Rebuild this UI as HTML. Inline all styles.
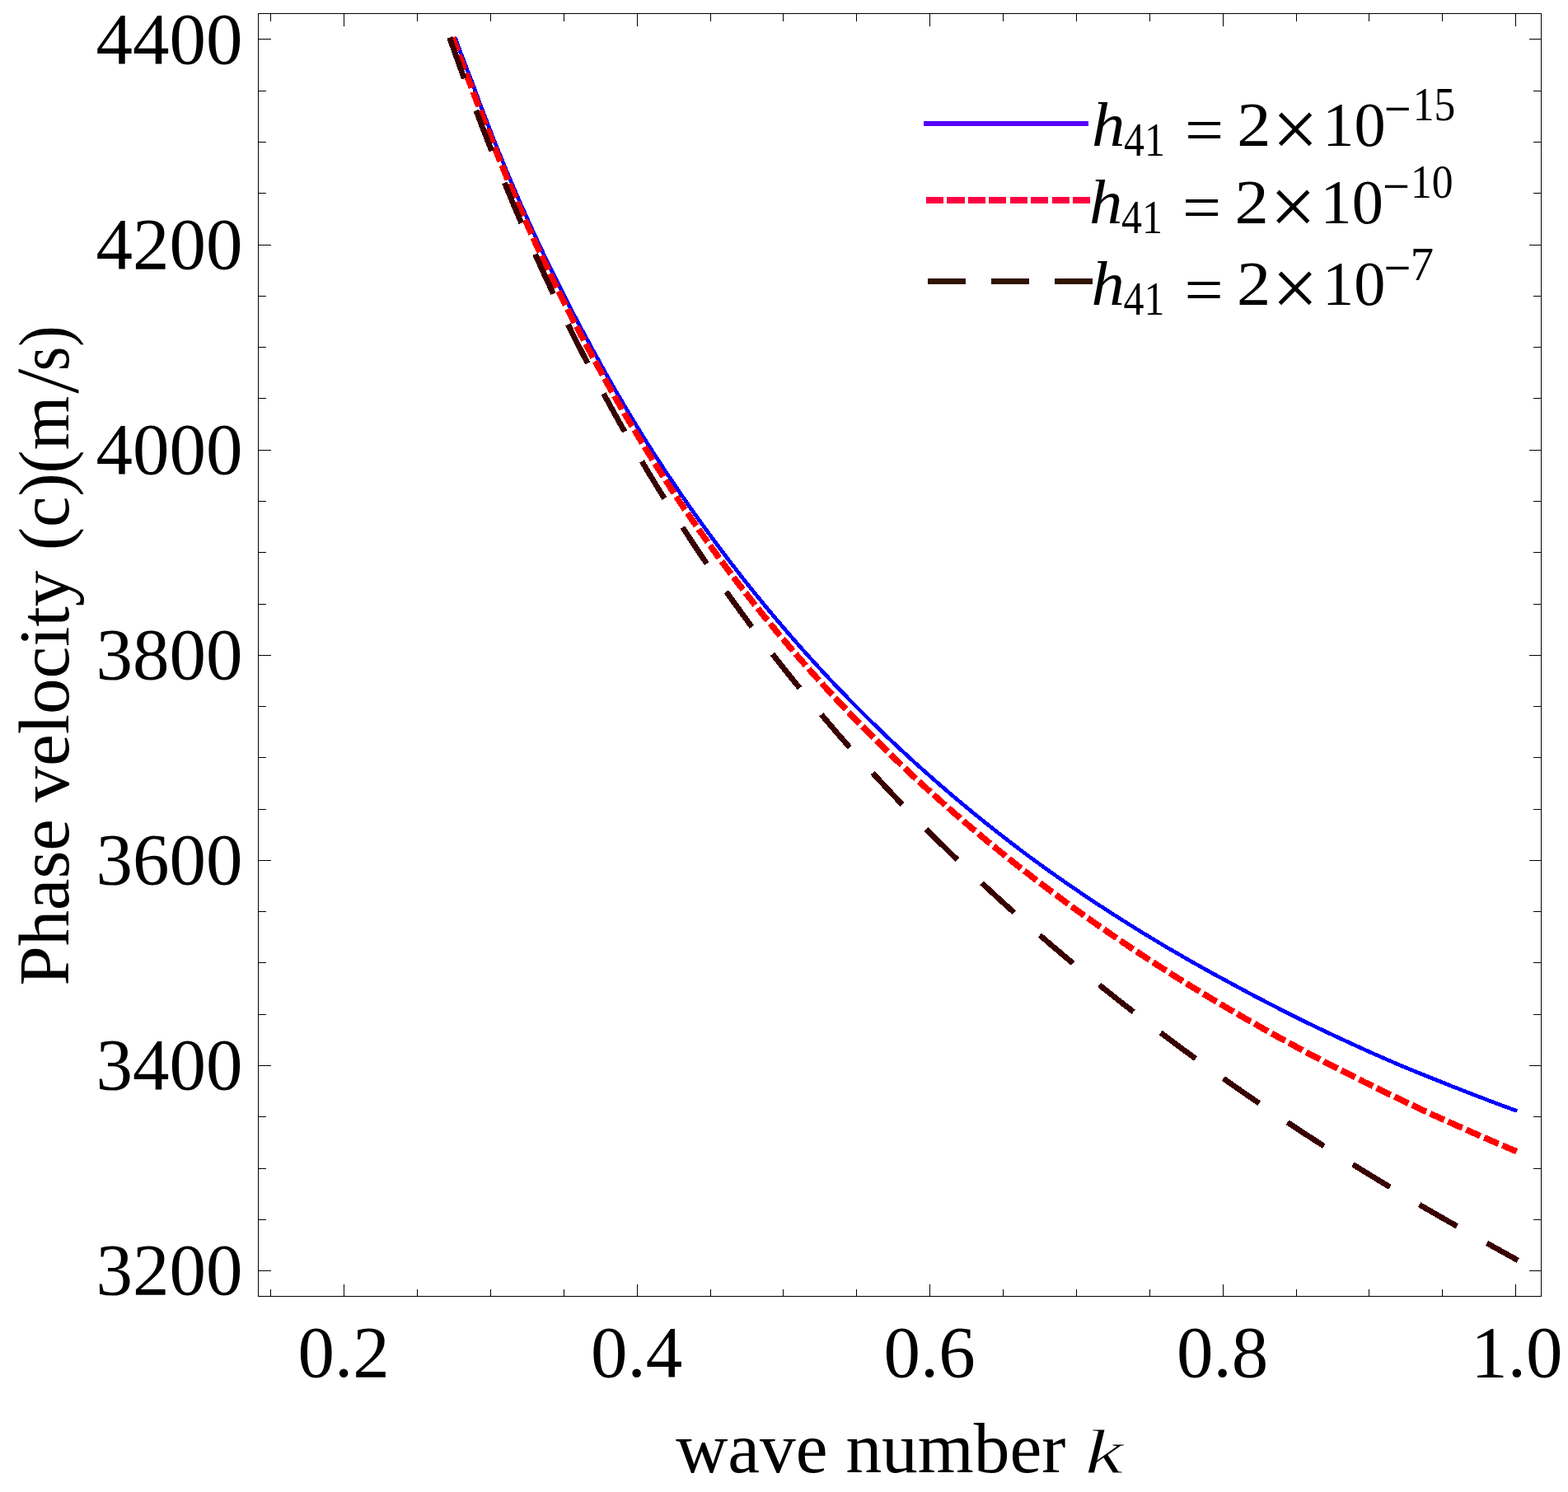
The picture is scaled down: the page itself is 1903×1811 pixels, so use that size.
<!DOCTYPE html>
<html><head><meta charset="utf-8"><title>Phase velocity vs wave number</title>
<style>html,body{margin:0;padding:0;background:#fff;overflow:hidden}svg{display:block}</style>
</head><body>
<svg width="1903" height="1811" viewBox="0 0 1903 1811">
<rect width="1903" height="1811" fill="#fff"/>
<g fill="none" stroke="#000" stroke-width="1" shape-rendering="crispEdges">
<rect x="313.5" y="16.5" width="1557.0" height="1557.0"/>
<path d="M328.5 16.5v9M328.5 1573.5v-9M417.5 16.5v15M417.5 1573.5v-15M506.5 16.5v9M506.5 1573.5v-9M595.5 16.5v9M595.5 1573.5v-9M684.5 16.5v9M684.5 1573.5v-9M773.5 16.5v15M773.5 1573.5v-15M862.5 16.5v9M862.5 1573.5v-9M950.5 16.5v9M950.5 1573.5v-9M1039.5 16.5v9M1039.5 1573.5v-9M1128.5 16.5v15M1128.5 1573.5v-15M1217.5 16.5v9M1217.5 1573.5v-9M1306.5 16.5v9M1306.5 1573.5v-9M1395.5 16.5v9M1395.5 1573.5v-9M1484.5 16.5v15M1484.5 1573.5v-15M1573.5 16.5v9M1573.5 1573.5v-9M1661.5 16.5v9M1661.5 1573.5v-9M1750.5 16.5v9M1750.5 1573.5v-9M1839.5 16.5v15M1839.5 1573.5v-15M313.5 1542.5h15M1870.5 1542.5h-15M313.5 1480.5h9M1870.5 1480.5h-10M313.5 1418.5h9M1870.5 1418.5h-10M313.5 1355.5h9M1870.5 1355.5h-10M313.5 1293.5h15M1870.5 1293.5h-15M313.5 1231.5h9M1870.5 1231.5h-10M313.5 1168.5h9M1870.5 1168.5h-10M313.5 1106.5h9M1870.5 1106.5h-10M313.5 1044.5h15M1870.5 1044.5h-15M313.5 982.5h9M1870.5 982.5h-10M313.5 919.5h9M1870.5 919.5h-10M313.5 857.5h9M1870.5 857.5h-10M313.5 795.5h15M1870.5 795.5h-15M313.5 733.5h9M1870.5 733.5h-10M313.5 670.5h9M1870.5 670.5h-10M313.5 608.5h9M1870.5 608.5h-10M313.5 546.5h15M1870.5 546.5h-15M313.5 483.5h9M1870.5 483.5h-10M313.5 421.5h9M1870.5 421.5h-10M313.5 359.5h9M1870.5 359.5h-10M313.5 297.5h15M1870.5 297.5h-15M313.5 234.5h9M1870.5 234.5h-10M313.5 172.5h9M1870.5 172.5h-10M313.5 110.5h9M1870.5 110.5h-10M313.5 47.5h15M1870.5 47.5h-15"/>
</g>
<g fill="none" shape-rendering="crispEdges">
<path d="M552.4 45.5L555.0 53.0L557.6 59.9L560.2 66.8L562.8 73.6L565.4 80.4L567.9 87.1L570.5 93.7L573.1 100.2L575.7 107.4L578.3 114.4L580.8 121.4L583.4 128.3L586.0 135.1L588.6 141.9L591.2 148.6L593.8 155.3L596.3 161.9L598.9 168.4L601.5 174.9L604.1 181.4L606.7 187.8L609.3 194.1L611.8 200.4L614.4 206.6L617.0 212.7L619.6 218.9L622.2 224.9L624.8 231.0L627.3 236.9L629.9 242.9L632.5 248.8L635.1 254.6L637.7 260.4L640.3 266.1L642.8 271.8L645.4 277.5L648.0 283.1L650.6 288.7L653.2 294.3L655.7 299.8L658.3 305.3L660.9 310.7L663.5 316.1L666.1 321.5L668.7 326.8L671.2 332.1L673.8 337.3L676.4 342.5L679.0 347.7L681.6 352.9L684.2 358.0L686.7 363.0L689.3 368.1L691.9 373.1L694.5 378.1L697.1 383.0L699.7 387.9L702.2 392.8L704.8 397.6L707.4 402.4L710.0 407.2L712.6 412.0L715.1 416.7L717.7 421.5L720.3 426.3L722.9 431.0L725.5 435.7L728.1 440.4L730.6 445.1L733.2 449.7L735.8 454.3L738.4 458.9L741.0 463.4L743.6 467.9L746.1 472.4L748.7 476.9L751.3 481.3L753.9 485.7L756.5 490.1L759.1 494.5L761.6 498.8L764.2 503.1L766.8 507.4L769.4 511.7L772.0 516.0L774.6 520.2L777.1 524.4L779.7 528.6L782.3 532.7L784.9 536.8L787.5 540.9L790.0 544.9L792.6 549.0L795.2 553.0L797.8 556.9L800.4 560.9L803.0 564.9L805.5 568.8L808.1 572.7L810.7 576.6L813.3 580.4L815.9 584.3L818.5 588.1L821.0 591.9L823.6 595.7L826.2 599.5L828.8 603.2L831.4 607.0L834.0 610.7L836.5 614.4L839.1 618.1L841.7 621.7L844.3 625.4L846.9 629.0L849.4 632.6L852.0 636.2L854.6 639.7L857.2 643.3L859.8 646.8L862.4 650.4L864.9 653.9L867.5 657.4L870.1 660.8L872.7 664.3L875.3 667.7L877.9 671.2L880.4 674.6L883.0 678.0L885.6 681.3L888.2 684.7L890.8 688.0L893.4 691.4L895.9 694.7L898.5 698.0L901.1 701.3L903.7 704.6L906.3 707.8L908.9 711.1L911.4 714.3L914.0 717.5L916.6 720.7L919.2 723.9L921.8 727.1L924.3 730.2L926.9 733.4L929.5 736.5L932.1 739.6L934.7 742.7L937.3 745.8L939.8 748.9L942.4 751.9L945.0 755.0L947.6 758.0L950.2 761.1L952.8 764.1L955.3 767.1L957.9 770.0L960.5 773.0L963.1 776.0L965.7 778.9L968.3 781.9L970.8 784.8L973.4 787.7L976.0 790.6L978.6 793.5L981.2 796.4L983.7 799.2L986.3 802.1L988.9 804.9L991.5 807.7L994.1 810.6L996.7 813.4L999.2 816.2L1001.8 818.9L1004.4 821.7L1007.0 824.4L1009.6 827.2L1012.2 829.9L1014.7 832.6L1017.3 835.3L1019.9 838.0L1022.5 840.7L1025.1 843.3L1027.7 846.0L1030.2 848.6L1032.8 851.3L1035.4 853.9L1038.0 856.5L1040.6 859.1L1043.2 861.7L1045.7 864.3L1048.3 866.8L1050.9 869.4L1053.5 872.0L1056.1 874.5L1058.6 877.0L1061.2 879.5L1063.8 882.1L1066.4 884.6L1069.0 887.1L1071.6 889.5L1074.1 892.0L1076.7 894.5L1079.3 896.9L1081.9 899.4L1084.5 901.8L1087.1 904.2L1089.6 906.7L1092.2 909.1L1094.8 911.5L1097.4 913.8L1100.0 916.2L1102.6 918.6L1105.1 921.0L1107.7 923.3L1110.3 925.7L1112.9 928.0L1115.5 930.3L1118.0 932.6L1120.6 934.9L1123.2 937.2L1125.8 939.5L1128.4 941.8L1131.0 944.1L1133.5 946.4L1136.1 948.6L1138.7 950.9L1141.3 953.1L1143.9 955.3L1146.5 957.6L1149.0 959.8L1151.6 962.0L1154.2 964.2L1156.8 966.4L1159.4 968.5L1162.0 970.7L1164.5 972.9L1167.1 975.0L1169.7 977.2L1172.3 979.3L1174.9 981.5L1177.4 983.6L1180.0 985.7L1182.6 987.8L1185.2 989.9L1187.8 992.0L1190.4 994.1L1192.9 996.2L1195.5 998.3L1198.1 1000.3L1200.7 1002.4L1203.3 1004.5L1205.9 1006.5L1208.4 1008.5L1211.0 1010.6L1213.6 1012.6L1216.2 1014.6L1218.8 1016.6L1221.4 1018.6L1223.9 1020.6L1226.5 1022.6L1229.1 1024.6L1231.7 1026.5L1234.3 1028.5L1236.9 1030.5L1239.4 1032.4L1242.0 1034.4L1244.6 1036.3L1247.2 1038.2L1249.8 1040.2L1252.3 1042.1L1254.9 1043.9L1257.5 1045.8L1260.1 1047.7L1262.7 1049.6L1265.3 1051.4L1267.8 1053.3L1270.4 1055.1L1273.0 1057.0L1275.6 1058.8L1278.2 1060.7L1280.8 1062.5L1283.3 1064.3L1285.9 1066.1L1288.5 1067.9L1291.1 1069.7L1293.7 1071.5L1296.3 1073.3L1298.8 1075.1L1301.4 1076.8L1304.0 1078.6L1306.6 1080.4L1309.2 1082.1L1311.7 1083.9L1314.3 1085.6L1316.9 1087.4L1319.5 1089.1L1322.1 1090.8L1324.7 1092.5L1327.2 1094.2L1329.8 1096.0L1332.4 1097.7L1335.0 1099.4L1337.6 1101.0L1340.2 1102.7L1342.7 1104.4L1345.3 1106.1L1347.9 1107.7L1350.5 1109.4L1353.1 1111.1L1355.7 1112.7L1358.2 1114.4L1360.8 1116.0L1363.4 1117.6L1366.0 1119.3L1368.6 1120.9L1371.2 1122.5L1373.7 1124.1L1376.3 1125.7L1378.9 1127.3L1381.5 1128.9L1384.1 1130.5L1386.6 1132.1L1389.2 1133.7L1391.8 1135.2L1394.4 1136.8L1397.0 1138.4L1399.6 1139.9L1402.1 1141.5L1404.7 1143.0L1407.3 1144.6L1409.9 1146.1L1412.5 1147.7L1415.1 1149.2L1417.6 1150.7L1420.2 1152.2L1422.8 1153.7L1425.4 1155.2L1428.0 1156.7L1430.6 1158.2L1433.1 1159.7L1435.7 1161.2L1438.3 1162.7L1440.9 1164.2L1443.5 1165.7L1446.0 1167.1L1448.6 1168.6L1451.2 1170.1L1453.8 1171.5L1456.4 1173.0L1459.0 1174.4L1461.5 1175.8L1464.1 1177.3L1466.7 1178.7L1469.3 1180.1L1471.9 1181.6L1474.5 1183.0L1477.0 1184.4L1479.6 1185.8L1482.2 1187.2L1484.8 1188.6L1487.4 1190.0L1490.0 1191.4L1492.5 1192.8L1495.1 1194.2L1497.7 1195.6L1500.3 1197.0L1502.9 1198.4L1505.5 1199.8L1508.0 1201.2L1510.6 1202.6L1513.2 1204.0L1515.8 1205.3L1518.4 1206.7L1520.9 1208.1L1523.5 1209.4L1526.1 1210.8L1528.7 1212.1L1531.3 1213.5L1533.9 1214.8L1536.4 1216.2L1539.0 1217.5L1541.6 1218.8L1544.2 1220.2L1546.8 1221.5L1549.4 1222.8L1551.9 1224.1L1554.5 1225.5L1557.1 1226.8L1559.7 1228.1L1562.3 1229.4L1564.9 1230.7L1567.4 1232.0L1570.0 1233.2L1572.6 1234.5L1575.2 1235.8L1577.8 1237.1L1580.3 1238.4L1582.9 1239.6L1585.5 1240.9L1588.1 1242.2L1590.7 1243.4L1593.3 1244.7L1595.8 1245.9L1598.4 1247.2L1601.0 1248.4L1603.6 1249.6L1606.2 1250.9L1608.8 1252.1L1611.3 1253.3L1613.9 1254.6L1616.5 1255.8L1619.1 1257.0L1621.7 1258.2L1624.3 1259.4L1626.8 1260.6L1629.4 1261.8L1632.0 1263.0L1634.6 1264.2L1637.2 1265.4L1639.8 1266.6L1642.3 1267.8L1644.9 1269.0L1647.5 1270.2L1650.1 1271.3L1652.7 1272.5L1655.2 1273.7L1657.8 1274.8L1660.4 1276.0L1663.0 1277.2L1665.6 1278.3L1668.2 1279.5L1670.7 1280.6L1673.3 1281.7L1675.9 1282.9L1678.5 1284.0L1681.1 1285.2L1683.7 1286.3L1686.2 1287.4L1688.8 1288.5L1691.4 1289.7L1694.0 1290.8L1696.6 1291.9L1699.2 1293.0L1701.7 1294.1L1704.3 1295.1L1706.9 1296.2L1709.5 1297.3L1712.1 1298.3L1714.6 1299.4L1717.2 1300.4L1719.8 1301.5L1722.4 1302.5L1725.0 1303.6L1727.6 1304.6L1730.1 1305.7L1732.7 1306.7L1735.3 1307.7L1737.9 1308.7L1740.5 1309.8L1743.1 1310.8L1745.6 1311.9L1748.2 1312.9L1750.8 1313.9L1753.4 1315.0L1756.0 1316.0L1758.6 1317.0L1761.1 1318.1L1763.7 1319.1L1766.3 1320.1L1768.9 1321.1L1771.5 1322.1L1774.1 1323.2L1776.6 1324.2L1779.2 1325.2L1781.8 1326.2L1784.4 1327.2L1787.0 1328.2L1789.5 1329.2L1792.1 1330.2L1794.7 1331.2L1797.3 1332.1L1799.9 1333.1L1802.5 1334.1L1805.0 1335.1L1807.6 1336.1L1810.2 1337.0L1812.8 1338.0L1815.4 1339.0L1818.0 1339.9L1820.5 1340.9L1823.1 1341.9L1825.7 1342.8L1828.3 1343.8L1830.9 1344.7L1833.5 1345.7L1836.0 1346.6L1838.6 1347.6L1841.2 1348.5" stroke="#0000ff" stroke-width="4.7"/>
<path d="M549.5 45.5L552.0 53.0L554.6 60.4L557.2 67.2L559.8 74.0L562.4 80.8L565.0 87.5L567.6 94.1L570.2 100.7L572.7 107.3L575.3 114.3L577.9 121.3L580.5 128.2L583.1 135.0L585.7 141.8L588.3 148.5L590.9 155.2L593.5 161.8L596.0 168.4L598.6 174.9L601.2 181.4L603.8 187.8L606.4 194.2L609.0 200.5L611.6 206.8L614.2 213.1L616.8 219.3L619.3 225.4L621.9 231.5L624.5 237.6L627.1 243.6L629.7 249.6L632.3 255.6L634.9 261.5L637.5 267.3L640.1 273.2L642.6 278.9L645.2 284.6L647.8 290.3L650.4 295.9L653.0 301.5L655.6 307.0L658.2 312.5L660.8 318.0L663.4 323.4L665.9 328.8L668.5 334.2L671.1 339.5L673.7 344.8L676.3 350.1L678.9 355.3L681.5 360.5L684.1 365.7L686.6 370.8L689.2 375.9L691.8 380.9L694.4 386.0L697.0 391.0L699.6 395.9L702.2 400.9L704.8 405.8L707.4 410.6L709.9 415.5L712.5 420.3L715.1 425.2L717.7 430.0L720.3 434.9L722.9 439.6L725.5 444.4L728.1 449.1L730.7 453.8L733.2 458.5L735.8 463.2L738.4 467.8L741.0 472.4L743.6 477.0L746.2 481.5L748.8 486.0L751.4 490.5L754.0 495.0L756.5 499.5L759.1 503.9L761.7 508.3L764.3 512.6L766.9 517.0L769.5 521.3L772.1 525.6L774.7 529.9L777.3 534.2L779.8 538.4L782.4 542.6L785.0 546.8L787.6 551.0L790.2 555.2L792.8 559.3L795.4 563.4L798.0 567.5L800.6 571.6L803.1 575.6L805.7 579.7L808.3 583.7L810.9 587.7L813.5 591.6L816.1 595.6L818.7 599.5L821.3 603.4L823.8 607.3L826.4 611.2L829.0 615.0L831.6 618.8L834.2 622.7L836.8 626.4L839.4 630.2L842.0 634.0L844.6 637.7L847.1 641.4L849.7 645.1L852.3 648.8L854.9 652.5L857.5 656.1L860.1 659.7L862.7 663.4L865.3 667.0L867.9 670.5L870.4 674.1L873.0 677.6L875.6 681.2L878.2 684.7L880.8 688.2L883.4 691.6L886.0 695.1L888.6 698.5L891.2 701.9L893.7 705.3L896.3 708.7L898.9 712.0L901.5 715.4L904.1 718.7L906.7 722.0L909.3 725.3L911.9 728.6L914.5 731.9L917.0 735.2L919.6 738.4L922.2 741.6L924.8 744.9L927.4 748.1L930.0 751.2L932.6 754.4L935.2 757.6L937.8 760.7L940.3 763.8L942.9 767.0L945.5 770.1L948.1 773.2L950.7 776.2L953.3 779.3L955.9 782.3L958.5 785.4L961.0 788.4L963.6 791.4L966.2 794.4L968.8 797.4L971.4 800.4L974.0 803.3L976.6 806.3L979.2 809.2L981.8 812.1L984.3 815.1L986.9 818.0L989.5 820.8L992.1 823.7L994.7 826.6L997.3 829.4L999.9 832.3L1002.5 835.1L1005.1 837.9L1007.6 840.7L1010.2 843.5L1012.8 846.3L1015.4 849.1L1018.0 851.9L1020.6 854.6L1023.2 857.4L1025.8 860.1L1028.4 862.8L1030.9 865.6L1033.5 868.3L1036.1 870.9L1038.7 873.6L1041.3 876.3L1043.9 879.0L1046.5 881.6L1049.1 884.2L1051.7 886.9L1054.2 889.5L1056.8 892.1L1059.4 894.7L1062.0 897.3L1064.6 899.9L1067.2 902.4L1069.8 905.0L1072.4 907.5L1075.0 910.1L1077.5 912.6L1080.1 915.1L1082.7 917.6L1085.3 920.2L1087.9 922.6L1090.5 925.1L1093.1 927.6L1095.7 930.1L1098.2 932.5L1100.8 935.0L1103.4 937.4L1106.0 939.8L1108.6 942.3L1111.2 944.7L1113.8 947.1L1116.4 949.5L1119.0 951.9L1121.5 954.2L1124.1 956.6L1126.7 959.0L1129.3 961.3L1131.9 963.6L1134.5 966.0L1137.1 968.3L1139.7 970.6L1142.3 972.9L1144.8 975.2L1147.4 977.5L1150.0 979.8L1152.6 982.1L1155.2 984.4L1157.8 986.6L1160.4 988.9L1163.0 991.1L1165.6 993.4L1168.1 995.6L1170.7 997.8L1173.3 1000.0L1175.9 1002.2L1178.5 1004.4L1181.1 1006.6L1183.7 1008.8L1186.3 1011.0L1188.9 1013.2L1191.4 1015.3L1194.0 1017.5L1196.6 1019.6L1199.2 1021.8L1201.8 1023.9L1204.4 1026.0L1207.0 1028.1L1209.6 1030.3L1212.2 1032.4L1214.7 1034.5L1217.3 1036.5L1219.9 1038.6L1222.5 1040.7L1225.1 1042.8L1227.7 1044.8L1230.3 1046.9L1232.9 1048.9L1235.4 1051.0L1238.0 1053.0L1240.6 1055.1L1243.2 1057.1L1245.8 1059.1L1248.4 1061.1L1251.0 1063.1L1253.6 1065.1L1256.2 1067.1L1258.7 1069.1L1261.3 1071.0L1263.9 1073.0L1266.5 1075.0L1269.1 1076.9L1271.7 1078.9L1274.3 1080.8L1276.9 1082.8L1279.5 1084.7L1282.0 1086.6L1284.6 1088.5L1287.2 1090.5L1289.8 1092.4L1292.4 1094.3L1295.0 1096.2L1297.6 1098.1L1300.2 1099.9L1302.8 1101.8L1305.3 1103.7L1307.9 1105.6L1310.5 1107.4L1313.1 1109.3L1315.7 1111.1L1318.3 1113.0L1320.9 1114.8L1323.5 1116.6L1326.1 1118.5L1328.6 1120.3L1331.2 1122.1L1333.8 1123.9L1336.4 1125.7L1339.0 1127.5L1341.6 1129.3L1344.2 1131.1L1346.8 1132.9L1349.4 1134.7L1351.9 1136.4L1354.5 1138.2L1357.1 1140.0L1359.7 1141.7L1362.3 1143.5L1364.9 1145.2L1367.5 1146.9L1370.1 1148.7L1372.6 1150.4L1375.2 1152.1L1377.8 1153.9L1380.4 1155.6L1383.0 1157.3L1385.6 1159.0L1388.2 1160.7L1390.8 1162.4L1393.4 1164.1L1395.9 1165.8L1398.5 1167.4L1401.1 1169.1L1403.7 1170.8L1406.3 1172.5L1408.9 1174.1L1411.5 1175.8L1414.1 1177.4L1416.7 1179.1L1419.2 1180.7L1421.8 1182.4L1424.4 1184.0L1427.0 1185.6L1429.6 1187.2L1432.2 1188.9L1434.8 1190.5L1437.4 1192.1L1440.0 1193.7L1442.5 1195.3L1445.1 1196.9L1447.7 1198.5L1450.3 1200.1L1452.9 1201.6L1455.5 1203.2L1458.1 1204.8L1460.7 1206.4L1463.3 1207.9L1465.8 1209.5L1468.4 1211.0L1471.0 1212.6L1473.6 1214.1L1476.2 1215.7L1478.8 1217.2L1481.4 1218.8L1484.0 1220.3L1486.6 1221.8L1489.1 1223.3L1491.7 1224.9L1494.3 1226.4L1496.9 1227.9L1499.5 1229.4L1502.1 1230.9L1504.7 1232.4L1507.3 1233.9L1509.8 1235.4L1512.4 1236.9L1515.0 1238.3L1517.6 1239.8L1520.2 1241.3L1522.8 1242.8L1525.4 1244.2L1528.0 1245.7L1530.6 1247.2L1533.1 1248.6L1535.7 1250.1L1538.3 1251.5L1540.9 1253.0L1543.5 1254.4L1546.1 1255.8L1548.7 1257.3L1551.3 1258.7L1553.9 1260.1L1556.4 1261.5L1559.0 1262.9L1561.6 1264.4L1564.2 1265.8L1566.8 1267.2L1569.4 1268.6L1572.0 1270.0L1574.6 1271.4L1577.2 1272.8L1579.7 1274.1L1582.3 1275.5L1584.9 1276.9L1587.5 1278.3L1590.1 1279.7L1592.7 1281.0L1595.3 1282.4L1597.9 1283.8L1600.5 1285.1L1603.0 1286.5L1605.6 1287.8L1608.2 1289.2L1610.8 1290.5L1613.4 1291.9L1616.0 1293.2L1618.6 1294.5L1621.2 1295.9L1623.8 1297.2L1626.3 1298.5L1628.9 1299.8L1631.5 1301.2L1634.1 1302.5L1636.7 1303.8L1639.3 1305.1L1641.9 1306.4L1644.5 1307.7L1647.0 1309.0L1649.6 1310.3L1652.2 1311.6L1654.8 1312.9L1657.4 1314.2L1660.0 1315.4L1662.6 1316.7L1665.2 1318.0L1667.8 1319.3L1670.3 1320.5L1672.9 1321.8L1675.5 1323.1L1678.1 1324.3L1680.7 1325.6L1683.3 1326.8L1685.9 1328.1L1688.5 1329.3L1691.1 1330.6L1693.6 1331.8L1696.2 1333.1L1698.8 1334.3L1701.4 1335.5L1704.0 1336.8L1706.6 1338.0L1709.2 1339.2L1711.8 1340.4L1714.4 1341.7L1716.9 1342.9L1719.5 1344.1L1722.1 1345.3L1724.7 1346.5L1727.3 1347.7L1729.9 1348.9L1732.5 1350.1L1735.1 1351.3L1737.7 1352.5L1740.2 1353.7L1742.8 1354.8L1745.4 1356.0L1748.0 1357.2L1750.6 1358.4L1753.2 1359.5L1755.8 1360.7L1758.4 1361.9L1761.0 1363.0L1763.5 1364.2L1766.1 1365.4L1768.7 1366.5L1771.3 1367.7L1773.9 1368.8L1776.5 1370.0L1779.1 1371.1L1781.7 1372.3L1784.2 1373.4L1786.8 1374.5L1789.4 1375.7L1792.0 1376.8L1794.6 1377.9L1797.2 1379.1L1799.8 1380.2L1802.4 1381.3L1805.0 1382.4L1807.5 1383.5L1810.1 1384.7L1812.7 1385.8L1815.3 1386.9L1817.9 1388.0L1820.5 1389.1L1823.1 1390.2L1825.7 1391.3L1828.3 1392.4L1830.8 1393.5L1833.4 1394.6L1836.0 1395.7L1838.6 1396.7L1841.2 1397.8" stroke="#ff0000" stroke-width="7.6" stroke-dasharray="18.9 5.06" stroke-dashoffset="1.4"/>
<path d="M545.6 45.5L548.2 52.9L550.8 60.3L553.4 67.6L556.0 74.9L558.6 82.2L561.2 89.4L563.8 96.5L566.4 103.6L569.0 110.7L571.6 117.7L574.2 124.6L576.8 131.6L579.4 138.4L582.0 145.3L584.6 152.1L587.2 158.8L589.8 165.5L592.4 172.2L595.0 178.8L597.6 185.4L600.2 191.9L602.8 198.4L605.4 204.8L608.0 211.2L610.6 217.6L613.2 223.9L615.8 230.2L618.4 236.5L620.9 242.7L623.5 248.9L626.1 255.0L628.7 261.1L631.3 267.2L633.9 273.2L636.5 279.2L639.1 285.2L641.7 291.1L644.3 297.0L646.9 302.8L649.5 308.7L652.1 314.4L654.7 320.2L657.3 325.9L659.9 331.6L662.5 337.2L665.1 342.8L667.7 348.4L670.3 354.0L672.9 359.5L675.5 365.0L678.1 370.4L680.7 375.8L683.3 381.2L685.9 386.6L688.5 391.9L691.1 397.2L693.7 402.5L696.3 407.7L698.9 413.0L701.5 418.1L704.1 423.3L706.7 428.4L709.3 433.5L711.9 438.5L714.5 443.5L717.1 448.5L719.7 453.5L722.3 458.4L724.9 463.4L727.5 468.2L730.1 473.1L732.7 477.9L735.3 482.8L737.9 487.5L740.5 492.3L743.1 497.0L745.7 501.7L748.3 506.4L750.9 511.1L753.5 515.7L756.1 520.3L758.7 524.9L761.3 529.5L763.9 534.0L766.5 538.6L769.1 543.1L771.7 547.5L774.3 552.0L776.9 556.4L779.5 560.8L782.1 565.2L784.7 569.6L787.3 573.9L789.9 578.2L792.5 582.5L795.1 586.8L797.7 591.1L800.3 595.3L802.9 599.5L805.5 603.7L808.1 607.9L810.6 612.0L813.2 616.2L815.8 620.3L818.4 624.4L821.0 628.5L823.6 632.5L826.2 636.6L828.8 640.6L831.4 644.6L834.0 648.6L836.6 652.5L839.2 656.5L841.8 660.4L844.4 664.3L847.0 668.2L849.6 672.1L852.2 676.0L854.8 679.8L857.4 683.6L860.0 687.4L862.6 691.2L865.2 695.0L867.8 698.7L870.4 702.5L873.0 706.2L875.6 709.9L878.2 713.6L880.8 717.3L883.4 720.9L886.0 724.6L888.6 728.2L891.2 731.8L893.8 735.4L896.4 739.0L899.0 742.6L901.6 746.1L904.2 749.7L906.8 753.2L909.4 756.7L912.0 760.2L914.6 763.7L917.2 767.2L919.8 770.6L922.4 774.0L925.0 777.5L927.6 780.9L930.2 784.3L932.8 787.7L935.4 791.0L938.0 794.4L940.6 797.7L943.2 801.1L945.8 804.4L948.4 807.7L951.0 811.0L953.6 814.2L956.2 817.5L958.8 820.8L961.4 824.0L964.0 827.2L966.6 830.4L969.2 833.6L971.8 836.9L974.4 840.1L977.0 843.2L979.6 846.4L982.2 849.6L984.8 852.7L987.4 855.9L990.0 859.0L992.6 862.1L995.2 865.3L997.7 868.3L1000.3 871.4L1002.9 874.5L1005.5 877.5L1008.1 880.6L1010.7 883.6L1013.3 886.6L1015.9 889.7L1018.5 892.7L1021.1 895.7L1023.7 898.6L1026.3 901.6L1028.9 904.6L1031.5 907.5L1034.1 910.4L1036.7 913.4L1039.3 916.3L1041.9 919.2L1044.5 922.1L1047.1 925.0L1049.7 927.9L1052.3 930.7L1054.9 933.6L1057.5 936.4L1060.1 939.3L1062.7 942.1L1065.3 944.9L1067.9 947.8L1070.5 950.6L1073.1 953.3L1075.7 956.1L1078.3 958.9L1080.9 961.7L1083.5 964.4L1086.1 967.2L1088.7 969.9L1091.3 972.7L1093.9 975.4L1096.5 978.1L1099.1 980.8L1101.7 983.5L1104.3 986.2L1106.9 988.9L1109.5 991.5L1112.1 994.2L1114.7 996.8L1117.3 999.5L1119.9 1002.1L1122.5 1004.7L1125.1 1007.4L1127.7 1010.0L1130.3 1012.6L1132.9 1015.2L1135.5 1017.8L1138.1 1020.4L1140.7 1022.9L1143.3 1025.5L1145.9 1028.0L1148.5 1030.6L1151.1 1033.1L1153.7 1035.7L1156.3 1038.2L1158.9 1040.7L1161.5 1043.2L1164.1 1045.7L1166.7 1048.2L1169.3 1050.7L1171.9 1053.2L1174.5 1055.7L1177.1 1058.2L1179.7 1060.6L1182.3 1063.1L1184.8 1065.5L1187.4 1068.0L1190.0 1070.4L1192.6 1072.8L1195.2 1075.2L1197.8 1077.6L1200.4 1080.0L1203.0 1082.4L1205.6 1084.8L1208.2 1087.2L1210.8 1089.6L1213.4 1092.0L1216.0 1094.3L1218.6 1096.7L1221.2 1099.1L1223.8 1101.4L1226.4 1103.7L1229.0 1106.1L1231.6 1108.4L1234.2 1110.7L1236.8 1113.0L1239.4 1115.3L1242.0 1117.6L1244.6 1119.9L1247.2 1122.2L1249.8 1124.5L1252.4 1126.8L1255.0 1129.1L1257.6 1131.3L1260.2 1133.6L1262.8 1135.8L1265.4 1138.1L1268.0 1140.3L1270.6 1142.5L1273.2 1144.8L1275.8 1147.0L1278.4 1149.2L1281.0 1151.4L1283.6 1153.6L1286.2 1155.8L1288.8 1158.0L1291.4 1160.2L1294.0 1162.4L1296.6 1164.6L1299.2 1166.7L1301.8 1168.9L1304.4 1171.1L1307.0 1173.2L1309.6 1175.4L1312.2 1177.5L1314.8 1179.7L1317.4 1181.8L1320.0 1183.9L1322.6 1186.1L1325.2 1188.2L1327.8 1190.3L1330.4 1192.4L1333.0 1194.5L1335.6 1196.6L1338.2 1198.7L1340.8 1200.8L1343.4 1202.8L1346.0 1204.9L1348.6 1207.0L1351.2 1209.1L1353.8 1211.1L1356.4 1213.2L1359.0 1215.2L1361.6 1217.3L1364.2 1219.3L1366.8 1221.4L1369.4 1223.4L1372.0 1225.4L1374.5 1227.4L1377.1 1229.5L1379.7 1231.5L1382.3 1233.5L1384.9 1235.5L1387.5 1237.5L1390.1 1239.5L1392.7 1241.5L1395.3 1243.4L1397.9 1245.4L1400.5 1247.4L1403.1 1249.4L1405.7 1251.3L1408.3 1253.3L1410.9 1255.3L1413.5 1257.2L1416.1 1259.2L1418.7 1261.1L1421.3 1263.0L1423.9 1265.0L1426.5 1266.9L1429.1 1268.8L1431.7 1270.8L1434.3 1272.7L1436.9 1274.6L1439.5 1276.5L1442.1 1278.4L1444.7 1280.3L1447.3 1282.2L1449.9 1284.1L1452.5 1286.0L1455.1 1287.9L1457.7 1289.7L1460.3 1291.6L1462.9 1293.5L1465.5 1295.3L1468.1 1297.2L1470.7 1299.1L1473.3 1300.9L1475.9 1302.8L1478.5 1304.6L1481.1 1306.5L1483.7 1308.3L1486.3 1310.1L1488.9 1312.0L1491.5 1313.8L1494.1 1315.6L1496.7 1317.4L1499.3 1319.2L1501.9 1321.1L1504.5 1322.9L1507.1 1324.7L1509.7 1326.5L1512.3 1328.3L1514.9 1330.1L1517.5 1331.8L1520.1 1333.6L1522.7 1335.4L1525.3 1337.2L1527.9 1339.0L1530.5 1340.7L1533.1 1342.5L1535.7 1344.3L1538.3 1346.0L1540.9 1347.8L1543.5 1349.5L1546.1 1351.3L1548.7 1353.0L1551.3 1354.7L1553.9 1356.5L1556.5 1358.2L1559.1 1359.9L1561.6 1361.7L1564.2 1363.4L1566.8 1365.1L1569.4 1366.8L1572.0 1368.5L1574.6 1370.3L1577.2 1372.0L1579.8 1373.7L1582.4 1375.4L1585.0 1377.1L1587.6 1378.7L1590.2 1380.4L1592.8 1382.1L1595.4 1383.8L1598.0 1385.5L1600.6 1387.1L1603.2 1388.8L1605.8 1390.5L1608.4 1392.1L1611.0 1393.8L1613.6 1395.5L1616.2 1397.1L1618.8 1398.8L1621.4 1400.4L1624.0 1402.1L1626.6 1403.7L1629.2 1405.3L1631.8 1407.0L1634.4 1408.6L1637.0 1410.2L1639.6 1411.9L1642.2 1413.5L1644.8 1415.1L1647.4 1416.7L1650.0 1418.3L1652.6 1420.0L1655.2 1421.6L1657.8 1423.2L1660.4 1424.8L1663.0 1426.4L1665.6 1428.0L1668.2 1429.5L1670.8 1431.1L1673.4 1432.7L1676.0 1434.3L1678.6 1435.9L1681.2 1437.5L1683.8 1439.0L1686.4 1440.6L1689.0 1442.2L1691.6 1443.7L1694.2 1445.3L1696.8 1446.9L1699.4 1448.4L1702.0 1450.0L1704.6 1451.5L1707.2 1453.1L1709.8 1454.6L1712.4 1456.1L1715.0 1457.7L1717.6 1459.2L1720.2 1460.8L1722.8 1462.3L1725.4 1463.8L1728.0 1465.3L1730.6 1466.8L1733.2 1468.3L1735.8 1469.8L1738.4 1471.3L1741.0 1472.8L1743.6 1474.3L1746.2 1475.8L1748.7 1477.3L1751.3 1478.7L1753.9 1480.2L1756.5 1481.7L1759.1 1483.2L1761.7 1484.6L1764.3 1486.1L1766.9 1487.6L1769.5 1489.1L1772.1 1490.6L1774.7 1492.0L1777.3 1493.5L1779.9 1495.0L1782.5 1496.5L1785.1 1498.0L1787.7 1499.4L1790.3 1500.9L1792.9 1502.4L1795.5 1503.8L1798.1 1505.3L1800.7 1506.8L1803.3 1508.2L1805.9 1509.7L1808.5 1511.1L1811.1 1512.6L1813.7 1514.0L1816.3 1515.5L1818.9 1516.9L1821.5 1518.4L1824.1 1519.8L1826.7 1521.2L1829.3 1522.7L1831.9 1524.1L1834.5 1525.5L1837.1 1527.0L1839.7 1528.4L1842.3 1529.8" stroke="#380000" stroke-width="6.8" stroke-dasharray="52.8 41.5"/>
<path d="M1121 150H1321" stroke="#5500ff" stroke-width="6" shape-rendering="crispEdges"/>
<path d="M1124 243H1323" stroke="#ff0040" stroke-width="8" stroke-dasharray="21.1 4.35" shape-rendering="crispEdges"/>
<path d="M1126 341.5H1326" stroke="#301400" stroke-width="7" stroke-dasharray="46 31" shape-rendering="crispEdges"/>
</g>
<g font-family="'Liberation Serif', 'Times New Roman', serif" fill="#000">
<text x="294.6" y="76.53" text-anchor="end" font-size="89.0">4400</text>
<text x="294.6" y="325.65" text-anchor="end" font-size="89.0">4200</text>
<text x="294.6" y="574.77" text-anchor="end" font-size="89.0">4000</text>
<text x="294.6" y="823.89" text-anchor="end" font-size="89.0">3800</text>
<text x="294.6" y="1073.01" text-anchor="end" font-size="89.0">3600</text>
<text x="294.6" y="1322.13" text-anchor="end" font-size="89.0">3400</text>
<text x="294.6" y="1571.25" text-anchor="end" font-size="89.0">3200</text>
<text x="417.00" y="1670.5" text-anchor="middle" font-size="89.0">0.2</text>
<text x="772.50" y="1670.5" text-anchor="middle" font-size="89.0">0.4</text>
<text x="1128.00" y="1670.5" text-anchor="middle" font-size="89.0">0.6</text>
<text x="1483.50" y="1670.5" text-anchor="middle" font-size="89.0">0.8</text>
<text x="1840.80" y="1670.5" text-anchor="middle" font-size="89.0">1.0</text>
<text x="820.20" y="1786.93" font-size="87.40">wave number</text>
<text transform="translate(1317.07 1787.80) scale(1.3750 1)" font-size="75.94" font-style="italic" stroke="#fff" stroke-width="1.0">k</text>
<text transform="translate(83.00 1196.60) rotate(-90) scale(0.9975 1.0000)" font-size="87.00">Phase</text>
<text transform="translate(83.00 973.70) rotate(-90) scale(1.0036 1.0000)" font-size="87.00">velocity</text>
<text transform="translate(83.00 668.00) rotate(-90) scale(0.9696 1.0000)" font-size="87.00">(c)(m</text>
<text transform="translate(95.20 478.60) rotate(-90) scale(1.3083 1.2635)" font-size="87.00" stroke="#fff" stroke-width="0.8">/</text>
<text transform="translate(83.00 450.34) rotate(-90) scale(0.8746 1.0000)" font-size="87.00">s)</text>
<text transform="translate(1324.88 177.08) scale(1.0693 1)" font-size="75.47" font-style="italic">h</text>
<text transform="translate(1363.90 189.00) scale(0.8804 1)" font-size="56.79">41</text>
<text transform="translate(1437.92 184.15) scale(1.0616 1)" font-size="78.80">=</text>
<text transform="translate(1501.29 176.70) scale(1.0740 1)" font-size="76.82">2</text>
<text x="1544.06" y="189.90" font-size="99.26">×</text>
<text x="1605.35" y="176.74" font-size="76.30">10</text>
<text transform="translate(1679.78 154.84) scale(0.8602 1)" font-size="68.00">−</text>
<text transform="translate(1714.76 146.23) scale(0.9055 1)" font-size="56.99">15</text>
<text transform="translate(1322.08 271.28) scale(1.0693 1)" font-size="75.47" font-style="italic">h</text>
<text transform="translate(1361.10 283.20) scale(0.8804 1)" font-size="56.79">41</text>
<text transform="translate(1435.12 278.35) scale(1.0616 1)" font-size="78.80">=</text>
<text transform="translate(1498.49 270.90) scale(1.0740 1)" font-size="76.82">2</text>
<text x="1541.26" y="284.10" font-size="99.26">×</text>
<text x="1602.55" y="270.94" font-size="76.30">10</text>
<text transform="translate(1677.98 249.04) scale(0.8602 1)" font-size="68.00">−</text>
<text transform="translate(1711.96 240.44) scale(0.9192 1)" font-size="56.15">10</text>
<text transform="translate(1324.58 370.48) scale(1.0693 1)" font-size="75.47" font-style="italic">h</text>
<text transform="translate(1363.60 382.40) scale(0.8804 1)" font-size="56.79">41</text>
<text transform="translate(1437.62 377.55) scale(1.0616 1)" font-size="78.80">=</text>
<text transform="translate(1500.99 370.10) scale(1.0740 1)" font-size="76.82">2</text>
<text x="1543.76" y="383.30" font-size="99.26">×</text>
<text x="1605.05" y="370.14" font-size="76.30">10</text>
<text transform="translate(1679.48 348.24) scale(0.8602 1)" font-size="68.00">−</text>
<text x="1711.72" y="340.28" font-size="56.62">7</text>
</g>
</svg>
</body></html>
